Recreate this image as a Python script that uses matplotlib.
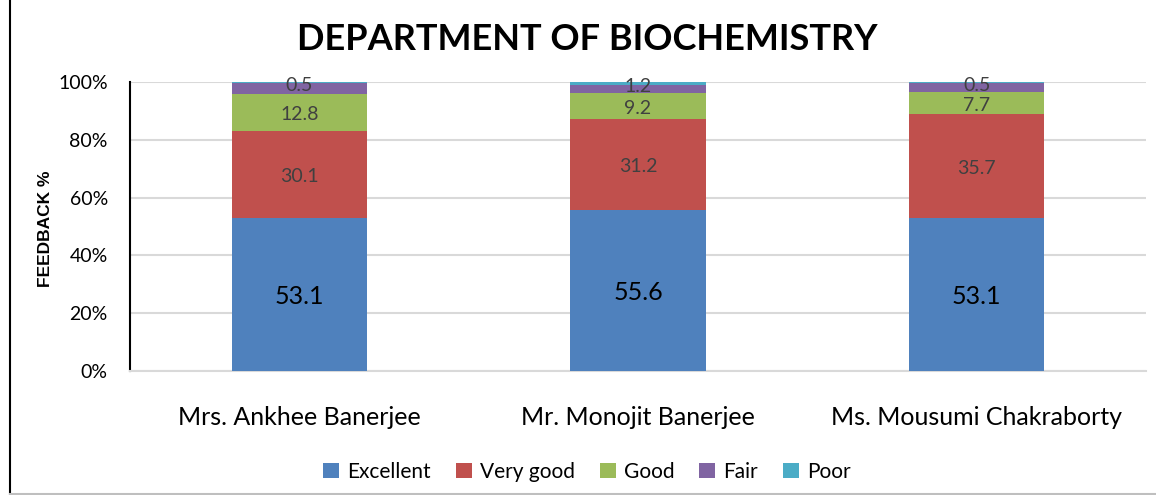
import matplotlib
matplotlib.use("Agg")
import matplotlib.pyplot as plt
import numpy as np
from matplotlib.lines import Line2D

plt.rcParams['font.family'] = ['Lato', 'DejaVu Sans']

categories = ["Mrs. Ankhee Banerjee", "Mr. Monojit Banerjee", "Ms. Mousumi Chakraborty"]
series_names = ["Excellent", "Very good", "Good", "Fair", "Poor"]
excellent = [53.1, 55.6, 53.1]
very_good = [30.1, 31.2, 35.7]
good = [12.8, 9.2, 7.7]
fair = [3.5, 2.5, 3.0]
poor = [0.5, 1.2, 0.5]
yticks = [0, 20, 40, 60, 80, 100]
colors = ["#4F81BD", "#C0504D", "#9BBB59", "#8064A2", "#4BACC6"]

series = [excellent, very_good, good, fair, poor]
data = np.array(series, dtype=float)
totals = data.sum(axis=0)
pct = data / totals * 100

fig = plt.figure(figsize=(11.56, 4.95), dpi=100)
ax = fig.add_axes([130/1156, 1 - 371/495, (1146-130)/1156, (371-82)/495])

x = np.arange(len(categories))
bottom = np.zeros(len(categories))
label_sizes = [18, 14, 14, None, 14]
for i, (name, vals) in enumerate(zip(series_names, pct)):
    ax.bar(x, vals, bottom=bottom, width=0.4, color=colors[i], label=name, zorder=3)
    if label_sizes[i] is not None:
        for j in range(len(categories)):
            col = 'black' if i == 0 else '#404040'
            ax.text(x[j], bottom[j] + vals[j] / 2 - 0.8, f"{series[i][j]:.1f}",
                    ha='center', va='center', fontsize=label_sizes[i], color=col, zorder=4)
    bottom += vals

ax.set_xlim(-0.5, len(categories) - 0.5)
ax.set_ylim(0, 100)
ax.set_yticks(yticks)
ax.set_yticklabels([f"{v}%" for v in yticks], fontsize=14)
ax.set_xticks(x)
ax.set_xticklabels(categories, fontsize=18)
ax.tick_params(axis='y', length=0, pad=16)
ax.tick_params(axis='x', length=0, pad=25)
ax.grid(axis='y', color='#D9D9D9', linewidth=1.5, zorder=0)
for s in ['top', 'right']:
    ax.spines[s].set_visible(False)
ax.spines['left'].set_color('black')
ax.spines['left'].set_linewidth(1.5)
ax.spines['bottom'].set_color('#D9D9D9')
ax.spines['bottom'].set_linewidth(1.5)

fig.text(46/1156, 1 - 229/495, "FEEDBACK %", ha='center', va='center', rotation=90,
         fontsize=12.5, fontweight='bold', family=['Liberation Sans', 'DejaVu Sans'])

fig.text(587/1156, 1 - 40/495, "DEPARTMENT OF BIOCHEMISTRY", ha='center', va='center',
         fontsize=26, fontweight='bold')

leg = fig.legend(loc='center', bbox_to_anchor=(587/1156, 1 - 472/495), ncol=5,
                 frameon=False, fontsize=15, handlelength=0.75, handleheight=0.75,
                 handletextpad=0.4, columnspacing=1.2)

# outer chart border
fig.add_artist(Line2D([10/1156, 10/1156], [0, 1], transform=fig.transFigure, color='black', linewidth=1.5))
fig.add_artist(Line2D([10/1156, 1], [1/495, 1/495], transform=fig.transFigure, color='#BFBFBF', linewidth=1.5))

fig.savefig("out.png", dpi=100)
